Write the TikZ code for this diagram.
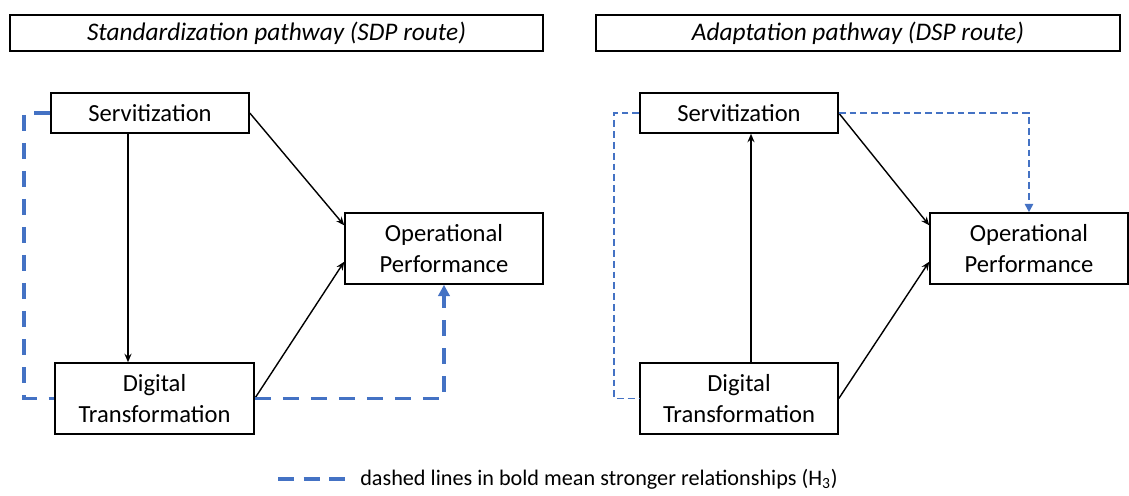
\documentclass[tikz,border=0pt]{standalone}
\usepackage{fontspec}
\setmainfont{Carlito}
\usepackage{tikz}
\usetikzlibrary{arrows.meta,positioning,calc}

\definecolor{pathblue}{HTML}{4472C4}

\begin{document}
\begin{tikzpicture}[
    box/.style={draw, line width=1.1pt, minimum width=4.95cm, align=center, inner sep=0pt, font=\fontsize{17.5}{21.5}\selectfont},
    var/.style={box, minimum height=1cm},
    outcome/.style={box, minimum height=1.775cm},
    title/.style={draw, line width=0.9pt, minimum height=0.9cm, inner sep=0pt, font=\fontsize{18}{22}\selectfont\itshape},
    arr/.style={-{Stealth[length=6pt, width=5pt]}, line width=1pt},
    strong/.style={draw=pathblue, line width=2.8pt, dash pattern=on 0.4cm off 0.3cm},
    weak/.style={draw=pathblue, line width=1.2pt, dash pattern=on 0.17cm off 0.1cm},
]
\useasboundingbox (0,0) rectangle (28.225,12.375);

% titles
\node[title, minimum width=13.325cm] (titleL) at (6.9125, 11.55) {Standardization pathway (SDP route)};
\node[title, minimum width=13.1cm]   (titleR) at (21.45, 11.55)  {Adaptation pathway (DSP route)};

% SDP route
\node[var]     (servL) at (3.75, 9.55)     {Servitization};
\node[outcome] (opL)   at (11.1, 6.1625)   {Operational\\Performance};
\node[outcome, minimum width=4.975cm] (dtL) at (3.8625, 2.4125) {Digital\\Transformation};

\draw[arr] ([xshift=-0.55cm]servL.south) -- ([xshift=-0.55cm]servL.south |- dtL.north);
\draw[arr] (servL.east) -- ([yshift=0.58cm]opL.west);
\draw[arr] (dtL.east) -- ([yshift=-0.33cm]opL.west);
\draw[strong] (servL.west) -- ++(-0.65,0) |- (dtL.west);
\draw[strong, -{Triangle[length=8pt, width=8pt]}] (dtL.east) -| (opL.south);

% DSP route
\node[var]     (servR) at (18.475, 9.55)   {Servitization};
\node[outcome] (opR)   at (25.725, 6.1625) {Operational\\Performance};
\node[outcome] (dtR)   at (18.475, 2.4125) {Digital\\Transformation};

\draw[arr] ([xshift=0.3cm]dtR.north) -- ([xshift=0.3cm]dtR.north |- servR.south);
\draw[arr] (servR.east) -- ([yshift=0.58cm]opR.west);
\draw[arr] (dtR.east) -- ([yshift=-0.33cm]opR.west);
\draw[weak] (servR.west) -- ++(-0.625,0) |- (dtR.west);
\draw[weak, -{Triangle[length=6pt, width=6pt]}] (servR.east) -| (opR.north);

% legend
\coordinate (keyA) at (6.95, 0.4);
\coordinate (keyB) at (8.63, 0.4);
\draw[strong, dash pattern=on 0.4cm off 0.24cm] (keyA) -- (keyB);
\node[anchor=west, inner sep=0pt, font=\fontsize{15.8}{19}\selectfont] (keytext) at (9.0, 0.4) {dashed lines in bold mean stronger relationships (H\textsubscript{3})};

\end{tikzpicture}
\end{document}
